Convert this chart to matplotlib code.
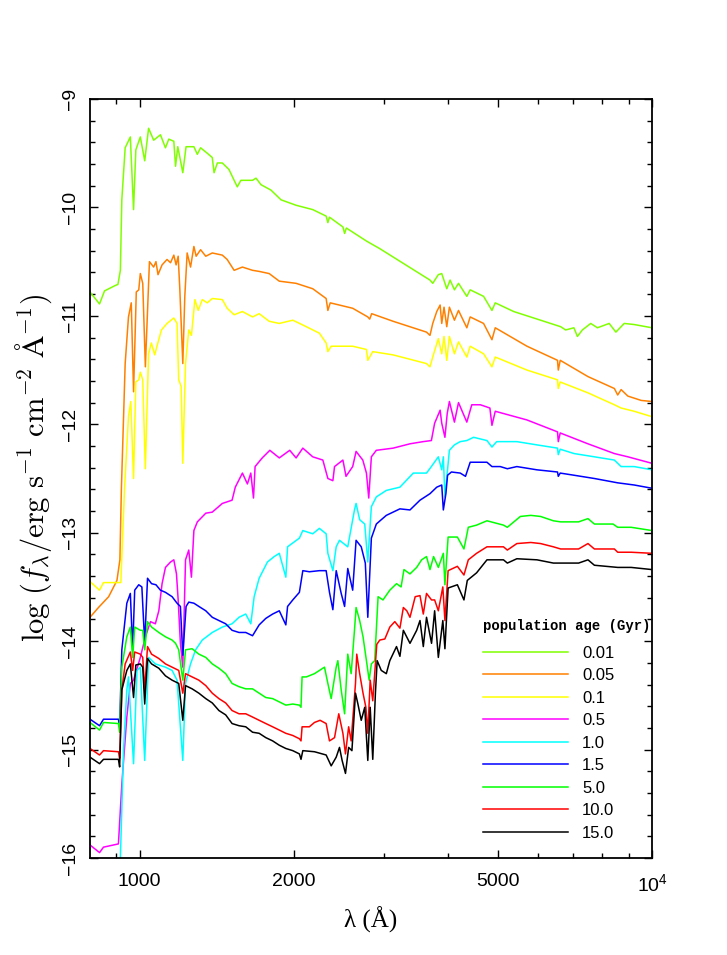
import matplotlib

matplotlib.use("Agg")
import matplotlib.pyplot as plt
from matplotlib.ticker import FixedLocator, FixedFormatter, MultipleLocator, NullFormatter

# spectra: wavelength (Angstrom) and log f_lambda
wave_001 = [800, 835, 854, 896, 907, 917, 923, 937, 959, 973, 983, 1003, 1023, 1041, 1065, 1098, 1123, 1140, 1166, 1175,
            1187, 1214, 1232, 1276, 1296, 1315, 1355, 1386, 1397, 1418, 1450, 1494, 1529, 1551, 1576, 1661, 1687, 1725,
            1804, 1888, 2020, 2177, 2312, 2330, 2347, 2493, 2512, 2532, 2771, 2942, 3687, 3733, 3828, 3887, 3976, 4036,
            4115, 4191, 4351, 4417, 4691, 4871, 4944, 5370, 6060, 6633, 6784, 7040, 7152, 7313, 7593, 7826, 8249, 8502,
            8826, 9232, 10000]
flux_001 = [-10.78, -10.89, -10.77, -10.72, -10.71, -10.58, -9.93, -9.45, -9.35, -10.02, -9.47, -9.35, -9.57, -9.27,
            -9.38, -9.33, -9.45, -9.37, -9.39, -9.62, -9.44, -9.68, -9.44, -9.44, -9.51, -9.45, -9.50, -9.54, -9.68,
            -9.59, -9.59, -9.65, -9.75, -9.81, -9.75, -9.75, -9.73, -9.79, -9.84, -9.93, -9.98, -10.02, -10.08, -10.14,
            -10.09, -10.18, -10.24, -10.19, -10.31, -10.38, -10.67, -10.70, -10.62, -10.61, -10.75, -10.67, -10.76,
            -10.70, -10.82, -10.76, -10.82, -10.95, -10.88, -10.96, -11.04, -11.10, -11.13, -11.11, -11.19, -11.13,
            -11.07, -11.11, -11.07, -11.15, -11.07, -11.08, -11.11]

wave_005 = [800, 831, 870, 903, 915, 921, 937, 951, 963, 973, 985, 996, 1003, 1014, 1026, 1045, 1065, 1076, 1086, 1106,
            1131, 1149, 1166, 1178, 1189, 1198, 1214, 1225, 1238, 1257, 1276, 1289, 1315, 1346, 1386, 1450, 1482, 1529,
            1587, 1661, 1711, 1790, 1873, 2020, 2177, 2312, 2330, 2355, 2605, 2788, 2812, 2837, 3124, 3630, 3687, 3733,
            3801, 3859, 3887, 3927, 3976, 4023, 4115, 4191, 4351, 4417, 4691, 4871, 4944, 5701, 6540, 6563, 6620, 7498,
            8444, 8572, 8704, 8972, 9528, 10000]
flux_005 = [-13.78, -13.69, -13.59, -13.44, -13.25, -12.61, -11.44, -11.01, -10.88, -11.70, -10.78, -10.76, -10.61,
            -10.70, -11.47, -10.50, -10.55, -10.50, -10.62, -10.53, -10.48, -10.51, -10.44, -10.53, -10.45, -10.76,
            -11.44, -10.82, -10.42, -10.55, -10.36, -10.45, -10.39, -10.45, -10.42, -10.44, -10.48, -10.58, -10.55,
            -10.58, -10.59, -10.61, -10.68, -10.70, -10.75, -10.84, -10.95, -10.88, -10.93, -11.01, -11.03, -10.98,
            -11.05, -11.15, -11.18, -11.07, -10.96, -10.90, -11.07, -10.92, -11.10, -10.92, -11.04, -10.95, -11.11,
            -11.01, -11.07, -11.22, -11.11, -11.28, -11.41, -11.50, -11.41, -11.56, -11.67, -11.73, -11.68, -11.74,
            -11.78, -11.79]

wave_01 = [800, 835, 850, 914, 919, 934, 951, 961, 973, 983, 996, 1003, 1014, 1026, 1041, 1054, 1070, 1081, 1103, 1131,
           1166, 1183, 1192, 1205, 1214, 1229, 1247, 1262, 1282, 1301, 1325, 1355, 1386, 1450, 1482, 1529, 1587, 1661,
           1711, 1790, 1873, 1990, 2115, 2243, 2312, 2330, 2365, 2605, 2771, 2788, 2851, 3124, 3630, 3687, 3733, 3828,
           3887, 3927, 3976, 4023, 4115, 4191, 4351, 4417, 4691, 4871, 4944, 5701, 6540, 6563, 6620, 7498, 8444, 8704,
           9232, 10000]
flux_01 = [-13.45, -13.53, -13.46, -13.46, -13.46, -12.61, -11.93, -11.79, -12.50, -11.61, -11.59, -11.52, -11.59,
           -12.41, -11.35, -11.25, -11.36, -11.28, -11.13, -11.07, -11.02, -11.07, -11.59, -11.65, -12.36, -11.44,
           -11.13, -11.18, -10.85, -10.95, -10.85, -10.88, -10.84, -10.85, -10.93, -10.99, -10.96, -11.01, -10.98,
           -11.05, -11.07, -11.04, -11.10, -11.16, -11.25, -11.33, -11.28, -11.28, -11.31, -11.41, -11.33, -11.36,
           -11.44, -11.47, -11.38, -11.21, -11.35, -11.19, -11.41, -11.19, -11.35, -11.24, -11.38, -11.28, -11.35,
           -11.47, -11.38, -11.50, -11.59, -11.67, -11.61, -11.71, -11.82, -11.85, -11.88, -11.93]

wave_05 = [800, 835, 850, 909, 923, 944, 959, 973, 1003, 1026, 1050, 1073, 1090, 1106, 1123, 1149, 1166, 1180, 1189,
           1201, 1214, 1229, 1247, 1262, 1276, 1296, 1346, 1386, 1450, 1515, 1537, 1587, 1623, 1648, 1668, 1680, 1735,
           1795, 1873, 1963, 2020, 2082, 2177, 2278, 2330, 2383, 2401, 2493, 2528, 2605, 2645, 2726, 2771, 2800, 2833,
           2897, 3124, 3370, 3575, 3710, 3765, 3859, 3887, 3943, 3984, 4023, 4115, 4191, 4351, 4449, 4624, 4826, 4871,
           4944, 5701, 6540, 6563, 6620, 7498, 8444, 8972, 10000]
flux_05 = [-15.88, -15.95, -15.90, -15.87, -15.32, -14.70, -14.39, -14.36, -14.15, -13.96, -13.82, -13.84, -13.72,
           -13.47, -13.32, -13.27, -13.25, -13.38, -13.62, -14.02, -14.24, -13.25, -13.16, -13.41, -12.98, -12.90,
           -12.82, -12.81, -12.73, -12.70, -12.58, -12.45, -12.55, -12.45, -12.68, -12.39, -12.31, -12.24, -12.31,
           -12.24, -12.31, -12.22, -12.30, -12.33, -12.50, -12.52, -12.39, -12.33, -12.48, -12.39, -12.25, -12.33,
           -12.45, -12.68, -12.30, -12.24, -12.22, -12.18, -12.16, -12.15, -11.99, -11.87, -11.99, -12.12, -11.90,
           -11.79, -11.98, -11.80, -11.98, -11.82, -11.82, -11.85, -12.01, -11.88, -11.96, -12.07, -12.16, -12.08,
           -12.18, -12.27, -12.30, -12.36]

wave_10 = [912, 917, 930, 944, 951, 973, 988, 1003, 1023, 1041, 1073, 1123, 1157, 1183, 1214, 1229, 1257, 1286, 1325,
           1386, 1450, 1515, 1563, 1611, 1648, 1673, 1711, 1776, 1831, 1873, 1929, 1944, 2050, 2082, 2177, 2243, 2312,
           2330, 2383, 2419, 2455, 2548, 2626, 2645, 2688, 2750, 2788, 2833, 2897, 3030, 3221, 3421, 3630, 3710, 3828,
           3887, 3915, 3943, 3984, 4023, 4115, 4224, 4351, 4485, 4763, 4871, 4976, 5448, 5963, 6540, 6563, 6620, 7046,
           7719, 8444, 8704, 9232, 10000]
flux_10 = [-16.4, -16.0, -15.01, -14.45, -14.33, -15.13, -14.27, -14.24, -15.10, -14.15, -14.21, -14.24, -14.27,
           -14.36, -15.10, -14.39, -14.21, -14.08, -13.99, -13.92, -13.87, -13.84, -13.78, -13.75, -13.84, -13.59,
           -13.42, -13.27, -13.22, -13.19, -13.41, -13.13, -13.05, -12.98, -13.01, -12.96, -13.01, -13.19, -13.35,
           -13.13, -13.07, -13.13, -12.79, -12.73, -12.88, -12.92, -13.27, -12.76, -12.67, -12.61, -12.58, -12.45,
           -12.45, -12.39, -12.30, -12.42, -12.30, -12.67, -12.45, -12.24, -12.19, -12.16, -12.15, -12.12, -12.15,
           -12.21, -12.16, -12.16, -12.19, -12.22, -12.28, -12.23, -12.27, -12.30, -12.33, -12.39, -12.39, -12.42]

wave_15 = [800, 835, 850, 909, 914, 923, 944, 959, 969, 978, 996, 1010, 1023, 1036, 1055, 1076, 1098, 1123, 1157, 1183,
           1201, 1214, 1232, 1247, 1276, 1305, 1346, 1386, 1428, 1472, 1515, 1563, 1611, 1661, 1711, 1763, 1818, 1873,
           1929, 1944, 1990, 2050, 2082, 2144, 2243, 2312, 2347, 2383, 2419, 2474, 2512, 2548, 2605, 2645, 2707, 2757,
           2788, 2833, 2897, 2962, 3030, 3221, 3370, 3525, 3687, 3801, 3887, 3915, 3960, 3990, 4060, 4224, 4325, 4417,
           4590, 4763, 4871, 5056, 5220, 5448, 5963, 6540, 6563, 6620, 7046, 7719, 8572, 9232, 10000]
flux_15 = [-14.72, -14.78, -14.72, -14.72, -14.79, -14.08, -13.65, -13.56, -14.08, -13.53, -13.48, -13.50, -14.02,
           -13.42, -13.47, -13.48, -13.53, -13.55, -13.59, -13.65, -13.68, -14.13, -13.68, -13.64, -13.65, -13.68,
           -13.72, -13.78, -13.81, -13.84, -13.90, -13.92, -13.92, -13.95, -13.85, -13.79, -13.75, -13.72, -13.85,
           -13.68, -13.62, -13.55, -13.35, -13.36, -13.35, -13.35, -13.55, -13.71, -13.35, -13.56, -13.68, -13.33,
           -13.53, -13.07, -13.13, -13.28, -13.78, -13.05, -12.92, -12.88, -12.84, -12.78, -12.79, -12.70, -12.64,
           -12.58, -12.56, -12.79, -12.64, -12.47, -12.44, -12.45, -12.48, -12.35, -12.35, -12.35, -12.39, -12.39,
           -12.41, -12.39, -12.42, -12.44, -12.48, -12.45, -12.47, -12.50, -12.54, -12.56, -12.59]

wave_50 = [800, 835, 850, 909, 914, 923, 944, 959, 969, 978, 1003, 1014, 1023, 1036, 1055, 1090, 1123, 1157, 1175,
           1192, 1214, 1229, 1266, 1305, 1346, 1386, 1428, 1472, 1515, 1563, 1611, 1661, 1711, 1763, 1818, 1873, 1929,
           1990, 2050, 2065, 2075, 2115, 2194, 2244, 2295, 2330, 2365, 2419, 2437, 2474, 2512, 2548, 2587, 2626, 2645,
           2688, 2729, 2771, 2805, 2833, 2876, 2920, 2985, 3078, 3172, 3238, 3280, 3370, 3473, 3551, 3630, 3687, 3747,
           3828, 3915, 3943, 4000, 4170, 4295, 4380, 4546, 4763, 5130, 5220, 5535, 5800, 6060, 6420, 6633, 7190, 7500,
           7719, 8393, 8572, 9105, 10000]
flux_50 = [-14.75, -14.82, -14.75, -14.76, -14.84, -14.24, -13.96, -13.87, -14.15, -13.87, -13.90, -13.90, -14.08,
           -13.82, -13.87, -13.92, -13.96, -13.99, -14.02, -14.08, -14.36, -14.08, -14.07, -14.12, -14.15, -14.21,
           -14.25, -14.30, -14.39, -14.42, -14.44, -14.44, -14.48, -14.52, -14.53, -14.56, -14.59, -14.58, -14.59,
           -14.61, -14.33, -14.33, -14.30, -14.27, -14.24, -14.39, -14.53, -14.24, -14.18, -14.45, -14.67, -14.12,
           -14.30, -13.90, -13.69, -13.81, -13.96, -14.18, -14.36, -14.21, -14.18, -13.59, -13.62, -13.53, -13.47,
           -13.50, -13.34, -13.38, -13.32, -13.25, -13.22, -13.34, -13.22, -13.32, -13.19, -13.48, -13.04, -13.04,
           -13.15, -12.95, -12.93, -12.89, -12.93, -12.95, -12.85, -12.84, -12.85, -12.89, -12.90, -12.90, -12.87,
           -12.92, -12.92, -12.95, -12.95, -12.98]

wave_100 = [800, 835, 850, 909, 914, 923, 937, 959, 969, 978, 1003, 1014, 1023, 1036, 1055, 1090, 1123, 1157, 1192,
            1214, 1229, 1266, 1305, 1346, 1386, 1428, 1472, 1515, 1563, 1611, 1661, 1711, 1763, 1818, 1873, 1929, 1990,
            2050, 2065, 2075, 2144, 2194, 2250, 2312, 2347, 2401, 2447, 2493, 2522, 2558, 2587, 2638, 2653, 2688, 2729,
            2764, 2788, 2818, 2851, 2903, 2942, 3010, 3078, 3148, 3221, 3271, 3322, 3370, 3450, 3525, 3578, 3630, 3713,
            3765, 3828, 3906, 3943, 4000, 4170, 4295, 4380, 4546, 4763, 5130, 5220, 5448, 5800, 6060, 6420, 6633, 7190,
            7500, 7719, 8444, 8572, 9105, 10000]
flux_100 = [-14.99, -15.05, -15.01, -15.02, -15.08, -14.45, -14.21, -14.10, -14.27, -14.10, -14.12, -14.15, -14.45,
            -14.05, -14.12, -14.16, -14.21, -14.24, -14.27, -14.48, -14.30, -14.33, -14.36, -14.41, -14.48, -14.53,
            -14.57, -14.64, -14.67, -14.67, -14.70, -14.73, -14.76, -14.79, -14.82, -14.85, -14.87, -14.90, -14.92,
            -14.79, -14.79, -14.75, -14.73, -14.76, -14.92, -14.89, -14.67, -14.85, -15.04, -14.79, -14.92, -14.39,
            -14.12, -14.30, -14.48, -14.61, -14.85, -14.36, -14.55, -14.03, -13.99, -13.98, -13.87, -13.82, -13.88,
            -13.69, -13.72, -13.78, -13.59, -13.58, -13.75, -13.56, -13.62, -13.62, -13.72, -13.50, -13.81, -13.35,
            -13.31, -13.39, -13.25, -13.19, -13.13, -13.13, -13.16, -13.10, -13.09, -13.10, -13.13, -13.15, -13.15,
            -13.10, -13.15, -13.15, -13.18, -13.18, -13.19]

wave_150 = [800, 835, 850, 909, 914, 923, 944, 959, 973, 983, 1003, 1014, 1023, 1036, 1055, 1090, 1123, 1157, 1192,
            1214, 1229, 1266, 1305, 1346, 1386, 1428, 1472, 1515, 1563, 1611, 1661, 1711, 1763, 1818, 1873, 1929, 1990,
            2050, 2065, 2082, 2194, 2312, 2365, 2419, 2455, 2484, 2522, 2558, 2596, 2638, 2667, 2707, 2750, 2788, 2818,
            2851, 2885, 2908, 2962, 3030, 3078, 3172, 3221, 3271, 3370, 3473, 3525, 3578, 3630, 3713, 3765, 3828, 3906,
            3943, 4000, 4170, 4295, 4360, 4546, 4763, 5130, 5220, 5448, 5963, 6420, 7190, 7500, 7719, 8572, 9105,
            10000]
flux_150 = [-15.07, -15.13, -15.09, -15.09, -15.16, -14.45, -14.27, -14.21, -14.52, -14.22, -14.21, -14.24, -14.58,
            -14.16, -14.21, -14.25, -14.32, -14.36, -14.39, -14.73, -14.41, -14.44, -14.48, -14.53, -14.57, -14.64,
            -14.68, -14.76, -14.78, -14.79, -14.84, -14.85, -14.89, -14.92, -14.96, -14.99, -15.01, -15.04, -15.09,
            -15.01, -15.02, -15.05, -15.15, -15.07, -14.98, -15.10, -15.22, -14.98, -15.01, -14.48, -14.58, -14.73,
            -14.61, -15.10, -14.61, -15.09, -14.48, -14.18, -14.27, -14.30, -14.18, -14.05, -14.14, -13.90, -14.02,
            -13.90, -13.81, -14.05, -13.78, -14.02, -13.72, -14.15, -13.81, -14.07, -13.51, -13.48, -13.62, -13.44,
            -13.37, -13.25, -13.25, -13.28, -13.24, -13.25, -13.28, -13.28, -13.25, -13.30, -13.32, -13.32, -13.34]

ages = ["0.01", "0.05", "0.1", "0.5", "1.0", "1.5", "5.0", "10.0", "15.0"]
colors = ["#80ff00", "#ff8000", "#ffff00", "#ff00ff", "#00ffff", "#0000ff", "#00ff00", "#ff0000", "#000000"]
waves = [wave_001, wave_005, wave_01, wave_05, wave_10, wave_15, wave_50, wave_100, wave_150]
fluxes = [flux_001, flux_005, flux_01, flux_05, flux_10, flux_15, flux_50, flux_100, flux_150]

x_major = [1000, 2000, 5000, 10000]
x_major_labels = ["1000", "2000", "5000", r"$\mathdefault{10^{4}}$"]
x_minor = [900, 3000, 4000, 6000, 7000, 8000, 9000]

plt.rcParams["font.family"] = ["Liberation Sans", "DejaVu Sans"]
plt.rcParams["mathtext.fontset"] = "cm"

fig = plt.figure(figsize=(7.27, 9.55), dpi=100)
ax = fig.add_axes([90 / 727, 1 - 858 / 955, 562 / 727, 759 / 955])

for age, color, w, f in zip(ages, colors, waves, fluxes):
    if len(w) != len(f):
        raise ValueError(f"length mismatch for {age}: {len(w)} vs {len(f)}")
    ax.plot(w, f, color=color, linewidth=1.1, label=age)

ax.set_xscale("log")
ax.set_xlim(800, 10000)
ax.set_ylim(-16, -9)

ax.xaxis.set_major_locator(FixedLocator(x_major))
ax.xaxis.set_major_formatter(FixedFormatter(x_major_labels))
ax.xaxis.set_minor_locator(FixedLocator(x_minor))
ax.xaxis.set_minor_formatter(NullFormatter())
ax.yaxis.set_major_locator(MultipleLocator(1))
ax.yaxis.set_minor_locator(MultipleLocator(0.2))

ax.tick_params(which="both", direction="in", top=True, right=True, width=1.0, labelsize=14)
ax.tick_params(which="major", length=6)
ax.tick_params(which="minor", length=3.8)
ax.tick_params(axis="x", pad=11)
ax.tick_params(axis="y", pad=8)
for lbl in ax.get_yticklabels():
    lbl.set_rotation(90)
    lbl.set_va("center")
for sp in ax.spines.values():
    sp.set_linewidth(1.3)

ax.set_ylabel(r"$\log\,(f_\lambda/\mathrm{erg\ s^{-1}\ cm^{-2}\ \AA^{-1}})$", fontsize=22)
ax.yaxis.set_label_coords(-0.064, 0.514)
ax.set_xlabel("λ (Å)", fontsize=18, family=["Liberation Serif", "DejaVu Serif"], labelpad=8)

leg = ax.legend(
    loc="upper left",
    bbox_to_anchor=(0.699, 0.315),
    frameon=False,
    fontsize=12,
    title="population age (Gyr)",
    title_fontproperties={"family": "Liberation Mono", "weight": "bold", "size": 10},
    alignment="left",
    handlelength=5.1,
    handletextpad=0.86,
    labelspacing=0.45,
    borderpad=0,
    borderaxespad=0,
)
# extra room between the legend title and the first entry
leg._legend_box.sep = 9.3

fig.savefig("out.png", dpi=100)
